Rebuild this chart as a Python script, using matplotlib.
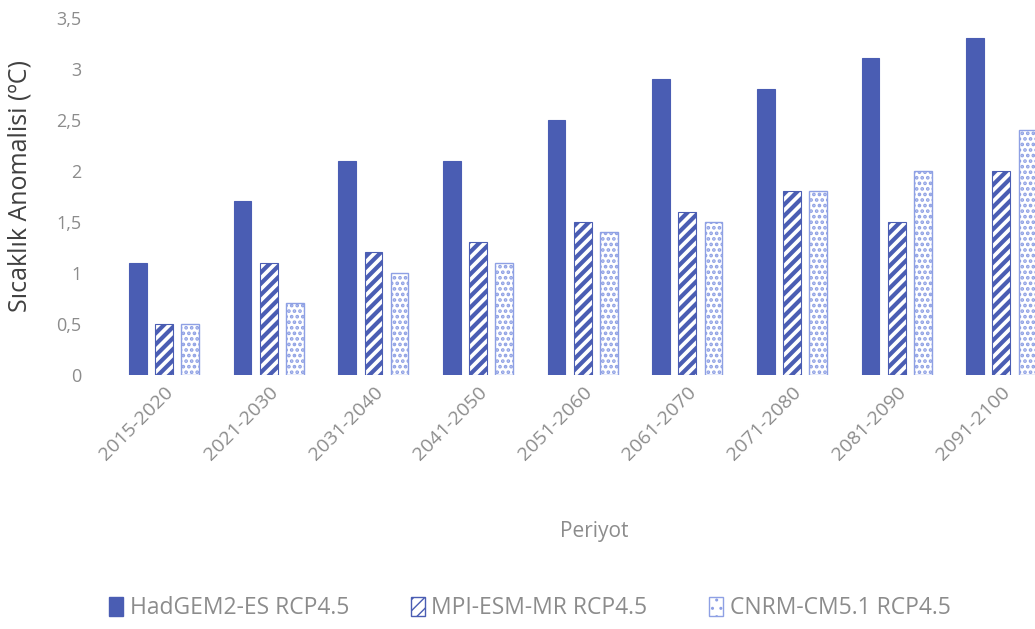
import numpy as np
import matplotlib.pyplot as plt
from matplotlib.patches import Patch

periods = ["2015-2020", "2021-2030", "2031-2040", "2041-2050", "2051-2060",
           "2061-2070", "2071-2080", "2081-2090", "2091-2100"]
hadgem = [1.1, 1.7, 2.1, 2.1, 2.5, 2.9, 2.8, 3.1, 3.3]
mpi = [0.5, 1.1, 1.2, 1.3, 1.5, 1.6, 1.8, 1.5, 2.0]
cnrm = [0.5, 0.7, 1.0, 1.1, 1.4, 1.5, 1.8, 2.0, 2.4]
series_names = ["HadGEM2-ES RCP4.5", "MPI-ESM-MR RCP4.5", "CNRM-CM5.1 RCP4.5"]
yticks = [0, 0.5, 1, 1.5, 2, 2.5, 3, 3.5]

dark = "#4a5db3"
light = "#8ea0e4"
gray = "#8c8c8c"

plt.rcParams['font.family'] = ['Open Sans', 'DejaVu Sans']

fig = plt.figure(figsize=(10.35, 6.29), dpi=100)
# axes run past the right edge on purpose, the source is cropped there
ax = fig.add_axes([0.108, 0.404, 0.910, 0.568])

x = np.arange(len(periods))
w = 0.17
off = 0.25
ax.bar(x - off, hadgem, w, color=dark, edgecolor=dark, linewidth=0.8)
b2 = ax.bar(x, mpi, w, color="white", edgecolor=dark, hatch="///", linewidth=0.8)
b3 = ax.bar(x + off, cnrm, w, color="white", edgecolor=light, hatch="...", linewidth=1.0)
for p in b2:
    p.set_hatch_linewidth(3.0)
for p in b3:
    p.set_hatch_linewidth(1.8)

ax.set_xlim(-0.5, len(periods) - 0.5)
ax.set_ylim(0, 3.5)
ax.set_yticks(yticks)
ax.set_yticklabels([("%g" % v).replace(".", ",") for v in yticks])
ax.set_xticks(x)
ax.set_xticklabels(periods, rotation=45, ha="right", rotation_mode="anchor")
ax.tick_params(length=0, labelcolor=gray, labelsize=13)
ax.tick_params(axis="y", pad=22)
ax.tick_params(axis="x", pad=6, labelsize=14)
for s in ax.spines.values():
    s.set_visible(False)

ax.set_ylabel("Sıcaklık Anomalisi (ºC)", fontsize=18, color="#404040")
ax.yaxis.set_label_coords(-0.084, 0.53)
fig.text(0.574, 0.155, "Periyot", fontsize=15, color=gray, ha="center", va="center")

h1 = Patch(facecolor=dark, edgecolor=dark)
h2 = Patch(facecolor="white", edgecolor=dark, hatch="///")
h3 = Patch(facecolor="white", edgecolor=light, hatch="..")
h2.set_hatch_linewidth(2.0)
h3.set_hatch_linewidth(1.0)
fig.legend([h1, h2, h3], series_names, loc="center", bbox_to_anchor=(0.512, 0.033),
           ncol=3, frameon=False, fontsize=16.5, labelcolor=gray,
           handlelength=0.6, handleheight=0.9, handletextpad=0.3, columnspacing=2.7)

fig.savefig("out.png", dpi=100)
